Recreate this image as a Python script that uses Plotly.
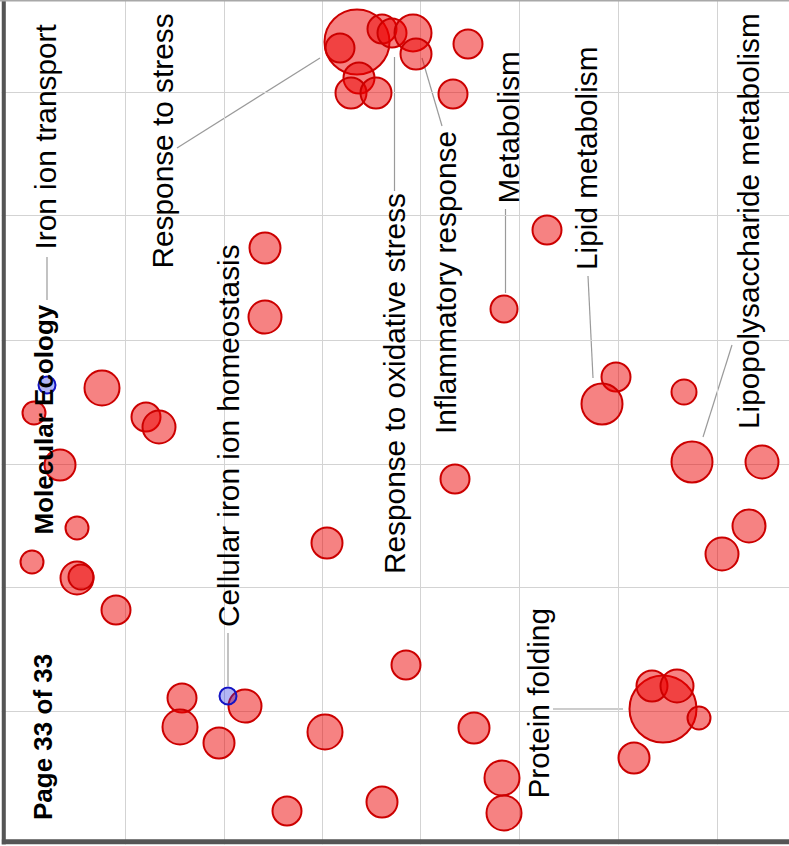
import plotly.graph_objects as go

# ---- data (bubble centres in plot units, bubble diameters) ----
red_x = [102, 34, 146, 159, 60, 77, 32, 77, 81, 116, 182, 180, 245, 219, 287,
         265, 265, 327, 455, 406, 325, 474, 382, 502, 504,
         663, 652, 677, 699, 634, 616, 602, 684, 692, 762, 749, 722,
         357, 340, 382, 392, 413, 416, 359, 351, 376, 468, 453, 547, 504]
red_y = [388, 413, 417, 427, 465, 528, 562, 578, 577, 610, 698, 727, 706, 743, 811,
         248, 317, 543, 479, 665, 732, 728, 802, 778, 813,
         709, 686, 686, 718, 758, 377, 404, 392, 462, 462, 526, 554,
         42, 48, 29, 33, 33, 54, 78, 93, 93, 44, 94, 230, 309]
red_size = [35, 23, 29, 33, 31, 23, 23, 33, 25, 29, 29, 35, 33, 31, 29,
            31, 33, 31, 29, 29, 35, 31, 31, 35, 35,
            67, 31, 33, 23, 31, 29, 41, 25, 41, 33, 33, 33,
            65, 29, 29, 29, 37, 31, 31, 31, 31, 29, 29, 29, 27]

blue_x = [47, 228]
blue_y = [385, 696]
blue_size = [17, 17]

grid_x = [125.3, 224, 322.3, 420.5, 519.5, 618.3, 717.3]
grid_y = [92.7, 215.8, 340.5, 464, 587.3, 711.3]

labels = ["Iron ion transport", "Response to stress", "Cellular iron ion homeostasis",
          "Response to oxidative stress", "Inflammatory response", "Metabolism",
          "Lipid metabolism", "Lipopolysaccharide metabolism", "Protein folding"]
label_pos = [(45, 136.5), (162, 141.5), (228, 436), (394, 384), (445, 283),
             (508, 127.5), (586, 158), (748, 221), (538, 703.5)]
connectors = [[(47, 257), (47, 300)], [(177, 148), (320, 58)], [(228, 633), (228, 686)],
              [(394.5, 191), (394.5, 57)], [(442, 126), (422, 58)], [(505.5, 209), (505.5, 293)],
              [(588, 276), (593, 378)], [(732, 345), (703, 437)], [(553, 709), (623, 709)]]

fig = go.Figure()
fig.add_trace(go.Scatter(
    x=red_x, y=red_y, mode="markers", hoverinfo="skip",
    marker=dict(size=red_size, sizemode="diameter", opacity=1, color="rgba(236,0,0,0.49)",
                line=dict(color="#cc0000", width=2))))
fig.add_trace(go.Scatter(
    x=blue_x, y=blue_y, mode="markers", hoverinfo="skip",
    marker=dict(size=blue_size, sizemode="diameter", opacity=1, color="rgba(30,40,225,0.34)",
                line=dict(color="#1414c4", width=2))))

shapes = []
for (a, b) in connectors:
    shapes.append(dict(type="line", xref="x", yref="y", x0=a[0], y0=a[1], x1=b[0], y1=b[1],
                       line=dict(color="#9a9a9a", width=1.2), layer="below"))
# frame
shapes.append(dict(type="rect", xref="x", yref="y", x0=1.5, x1=5.8, y0=0, y1=845,
                   fillcolor="#555555", line=dict(width=0), layer="above"))
shapes.append(dict(type="rect", xref="x", yref="y", x0=1.5, x1=789, y0=839.3, y1=844.5,
                   fillcolor="#555555", line=dict(width=0), layer="above"))
shapes.append(dict(type="rect", xref="x", yref="y", x0=0, x1=789, y0=844.5, y1=846,
                   fillcolor="white", line=dict(width=0), layer="above"))
shapes.append(dict(type="rect", xref="x", yref="y", x0=0, x1=1.5, y0=0, y1=846,
                   fillcolor="white", line=dict(width=0), layer="above"))
shapes.append(dict(type="line", xref="x", yref="y", x0=0, x1=789, y0=0.8, y1=0.8,
                   line=dict(color="#a8a8a8", width=1.5), layer="above"))

annotations = []
for t, (lx, ly) in zip(labels, label_pos):
    annotations.append(dict(text=t, x=lx, y=ly, xref="x", yref="y", showarrow=False,
                            textangle=-90, xanchor="center", yanchor="middle",
                            font=dict(family="Liberation Sans, Arial", size=29.8, color="#000")))
for t, (lx, ly) in zip(["Molecular Ecology", "Page 33 of 33"], [(43, 419.5), (43, 737)]):
    annotations.append(dict(text="<b>" + t + "</b>", x=lx, y=ly, xref="x", yref="y",
                            showarrow=False, textangle=-90, xanchor="center", yanchor="middle",
                            font=dict(family="Liberation Sans, Arial", size=26, color="#000")))

fig.update_layout(
    width=789, height=846, margin=dict(l=0, r=0, t=0, b=0),
    paper_bgcolor="white", plot_bgcolor="white", showlegend=False,
    xaxis=dict(range=[0, 789], tickvals=grid_x, showticklabels=False, ticks="",
               showgrid=True, gridcolor="#d3d3d3", gridwidth=1, zeroline=False, fixedrange=True),
    yaxis=dict(range=[846, 0], tickvals=grid_y, showticklabels=False, ticks="",
               showgrid=True, gridcolor="#d3d3d3", gridwidth=1, zeroline=False, fixedrange=True),
    shapes=shapes, annotations=annotations)

fig.write_html("out.html")
